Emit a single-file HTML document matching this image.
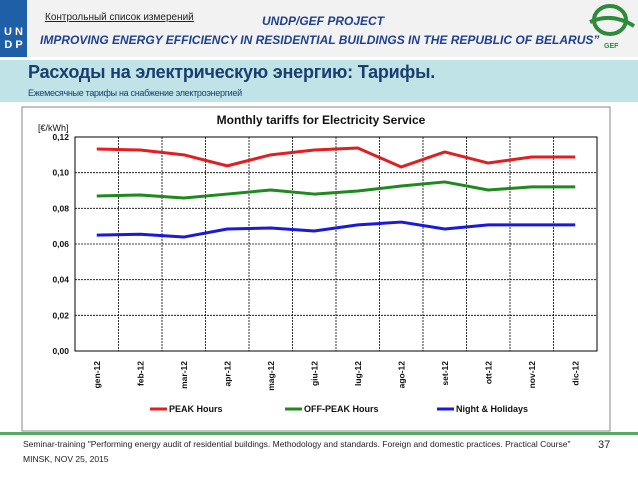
<!DOCTYPE html>
<html><head><meta charset="utf-8"><style>
body{margin:0;width:638px;height:479px;background:#fff;font-family:"Liberation Sans","DejaVu Sans",sans-serif;position:relative;overflow:hidden}
.a{position:absolute}
</style></head><body>
<div class="a" style="left:0;top:0;width:638px;height:57px;background:#f2f2f2"></div>
<div class="a" style="left:0;top:0;width:27px;height:57px;background:#1f5fa8;color:#fff;font-size:11px;line-height:13px;text-align:center;font-weight:bold"><div style="height:26px"></div>U N<br>D P</div>
<div class="a" style="left:45px;top:12px;font-size:10px;text-decoration:underline;color:#222">Контрольный список измерений</div>
<div class="a" style="left:262px;top:14px;font-size:12px;font-style:italic;font-weight:bold;color:#1f3f8f">UNDP/GEF PROJECT</div>
<div class="a" style="left:40px;top:33px;font-size:12px;font-style:italic;font-weight:bold;color:#1f3f8f;white-space:nowrap">IMPROVING ENERGY EFFICIENCY IN RESIDENTIAL BUILDINGS IN THE REPUBLIC OF BELARUS”</div>
<svg class="a" style="left:588px;top:2px" width="48" height="52"><ellipse cx="22" cy="18" rx="16" ry="14" fill="none" stroke="#2e8b3a" stroke-width="4"/><path d="M2 20 Q24 10 46 24" stroke="#2e8b3a" stroke-width="4" fill="none"/><text x="16" y="46" font-size="7" fill="#2e8b3a" font-weight="bold">GEF</text></svg>
<div class="a" style="left:0;top:60px;width:638px;height:42px;background:#bfe3e6"></div>
<div class="a" style="left:28px;top:62px;font-size:18px;font-weight:bold;color:#1c3d6e;letter-spacing:-0.2px">Расходы на электрическую энергию: Тарифы.</div>
<div class="a" style="left:28px;top:88px;font-size:9px;color:#1c3d6e;letter-spacing:-0.3px">Ежемесячные тарифы на снабжение электроэнергией</div>
<svg class="a" id="chart" style="left:0;top:0" width="638" height="479"></svg>
<div class="a" style="left:0;top:432px;width:638px;height:3px;background:#5aa865"></div>
<div class="a" style="left:23px;top:437px;font-size:8.5px;color:#222;line-height:15px;white-space:nowrap">Seminar-training "Performing energy audit of residential buildings. Methodology and standards. Foreign and domestic practices. Practical Course"<br>MINSK, NOV 25, 2015</div>
<div class="a" style="left:598px;top:439px;font-size:11px;color:#222">37</div>
<script>
const categories=["gen-12","feb-12","mar-12","apr-12","mag-12","giu-12","lug-12","ago-12","set-12","ott-12","nov-12","dic-12"];
const peak=[0.1133,0.1127,0.110,0.1038,0.110,0.1127,0.1138,0.1032,0.1116,0.1054,0.1088,0.1088];
const offPeak=[0.0869,0.0875,0.0858,0.088,0.0903,0.088,0.0897,0.0925,0.0948,0.0903,0.092,0.092];
const night=[0.065,0.0655,0.0639,0.0684,0.069,0.0673,0.0707,0.0723,0.0684,0.0707,0.0707,0.0707];
const yTicks=[0,0.02,0.04,0.06,0.08,0.10,0.12];
const yLabels=["0,00","0,02","0,04","0,06","0,08","0,10","0,12"];
const svg=document.getElementById('chart');const NS='http://www.w3.org/2000/svg';
const L=75,R=597,T=137,B=351;
const x=i=>L+(i+0.5)*(R-L)/categories.length;
const y=v=>B-(v/0.12)*(B-T);
function mk(t,a,txt){const e=document.createElementNS(NS,t);for(const k in a)e.setAttribute(k,a[k]);if(txt!==undefined)e.textContent=txt;svg.appendChild(e);return e;}
let box=mk('rect',{x:22,y:107,width:588,height:324,fill:'#fff',stroke:'#888'});


let tt=mk('text',{x:321,y:124,'font-size':12,'font-weight':'bold','text-anchor':'middle',fill:'#111'},'Monthly tariffs for Electricity Service');


let un=mk('text',{x:38,y:131,'font-size':9,fill:'#111'},'[€/kWh]');


yTicks.forEach((v,i)=>{
 if(v>0){let g=mk('line',{x1:L,x2:R,y1:y(v),y2:y(v),stroke:'#000','stroke-width':0.8,'stroke-dasharray':'2,1'});
 
 }
 let t=mk('text',{x:L-6,y:y(v)+3,'font-size':8.5,'font-weight':'bold','text-anchor':'end',fill:'#111'},yLabels[i]);
 
 
});
categories.forEach((c,i)=>{
 const gx=L+(i+1)*(R-L)/categories.length;
 if(i<categories.length-1){let g=mk('line',{x1:gx,x2:gx,y1:T,y2:B,stroke:'#000','stroke-width':0.8,'stroke-dasharray':'2,1'});
 
 }
 let t=mk('text',{x:0,y:0,'font-size':8.5,'font-weight':'bold','text-anchor':'end',fill:'#111',transform:`translate(${x(i)+3},${B+10}) rotate(-90)`},c);
 
 
});
let pa=mk('rect',{x:L,y:T,width:R-L,height:B-T,fill:'none',stroke:'#000','stroke-width':1});


const series=[[peak,'#e02020','peak-hours-line','PEAK Hours',150],[offPeak,'#1e8a1e','off-peak-hours-line','OFF-PEAK Hours',285],[night,'#1a1ad8','night-holidays-line','Night & Holidays',437]];
series.forEach(s=>{
 let p=mk('polyline',{points:s[0].map((v,i)=>x(i)+','+y(v)).join(' '),fill:'none',stroke:s[1],'stroke-width':3,'stroke-linejoin':'round'});
 
 
 let lg=mk('line',{x1:s[4],x2:s[4]+17,y1:409,y2:409,stroke:s[1],'stroke-width':3});
 
 
 let lt=mk('text',{x:s[4]+19,y:412,'font-size':9,'font-weight':'bold',fill:'#111'},s[3]);
 
 
});
</script>
</body></html>
